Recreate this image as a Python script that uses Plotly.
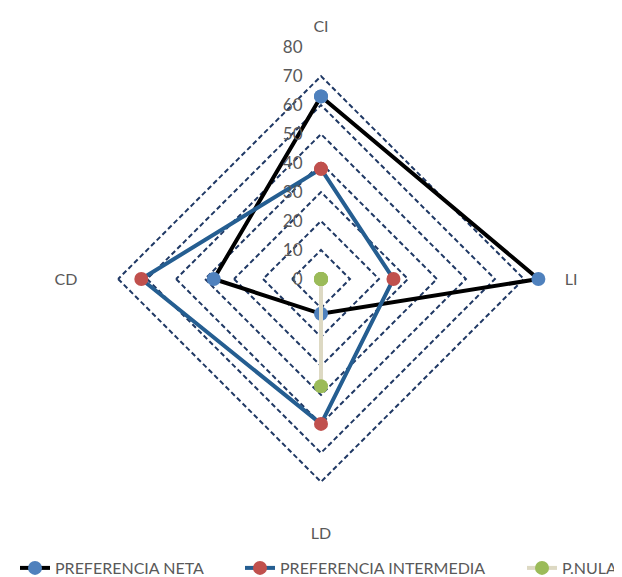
import plotly.graph_objects as go

categories = ["CI", "LI", "LD", "CD"]
neta = [63, 75, 12, 37]
intermedia = [38, 25, 50, 62]
nula = [0, 0, 37, 0]
radial_ticks = [0, 10, 20, 30, 40, 50, 60, 70, 80]

def closed(v):
    # plotly hides points lying exactly on the centre of a linear (polygon) polar grid,
    # so zeros are nudged by a negligible amount to keep their markers visible
    v = [x if x > 0 else 1e-4 for x in v]
    return v + v[:1]

fig = go.Figure()
fig.add_trace(go.Scatterpolar(
    r=closed(neta), theta=categories + categories[:1], name="PREFERENCIA NETA",
    mode="lines+markers", line=dict(color="#000000", width=4), cliponaxis=False,
    marker=dict(color="#4F81BD", size=14), legend="legend"))
fig.add_trace(go.Scatterpolar(
    r=closed(intermedia), theta=categories + categories[:1], name="PREFERENCIA INTERMEDIA",
    mode="lines+markers", line=dict(color="#255E91", width=4), cliponaxis=False,
    marker=dict(color="#C0504D", size=14), legend="legend2"))
fig.add_trace(go.Scatterpolar(
    r=closed(nula), theta=categories + categories[:1], name="P.NULA",
    mode="lines+markers", line=dict(color="#DDD9C3", width=4), cliponaxis=False,
    marker=dict(color="#9BBB59", size=14), legend="legend3"))

leg_common = dict(orientation="h", y=0.0, yanchor="bottom", xanchor="left",
                  font=dict(size=16, color="#595959"), bgcolor="rgba(0,0,0,0)")

fig.update_layout(
    width=622, height=577,
    showlegend=True,
    margin=dict(l=0, r=0, t=0, b=0),
    paper_bgcolor="white", plot_bgcolor="white",
    font=dict(family="Lato, Open Sans, sans-serif", color="#595959", size=16),
    polar=dict(
        bgcolor="white",
        gridshape="linear",
        domain=dict(x=[81/622, 545/622], y=[74/577, 538/577]),
        radialaxis=dict(
            range=[0, 80.05], tickvals=radial_ticks, angle=90,
            side="counterclockwise", tickangle=90,
            showline=False, ticks="outside", ticklen=12,
            tickcolor="rgba(0,0,0,0)", gridcolor="#1F3864", gridwidth=1.6,
            griddash="5px,3px", tickfont=dict(size=17, color="#595959")),
        angularaxis=dict(
            direction="clockwise", rotation=90, showgrid=False,
            showline=False, ticks="outside", ticklen=8,
            tickcolor="rgba(0,0,0,0)",
            tickfont=dict(size=16, color="#595959")),
    ),
    legend=dict(x=7/622, **leg_common),
    legend2=dict(x=232/622, **leg_common),
    legend3=dict(x=514/622, entrywidth=58, entrywidthmode="pixels", **leg_common),
)

fig.write_html("out.html")
